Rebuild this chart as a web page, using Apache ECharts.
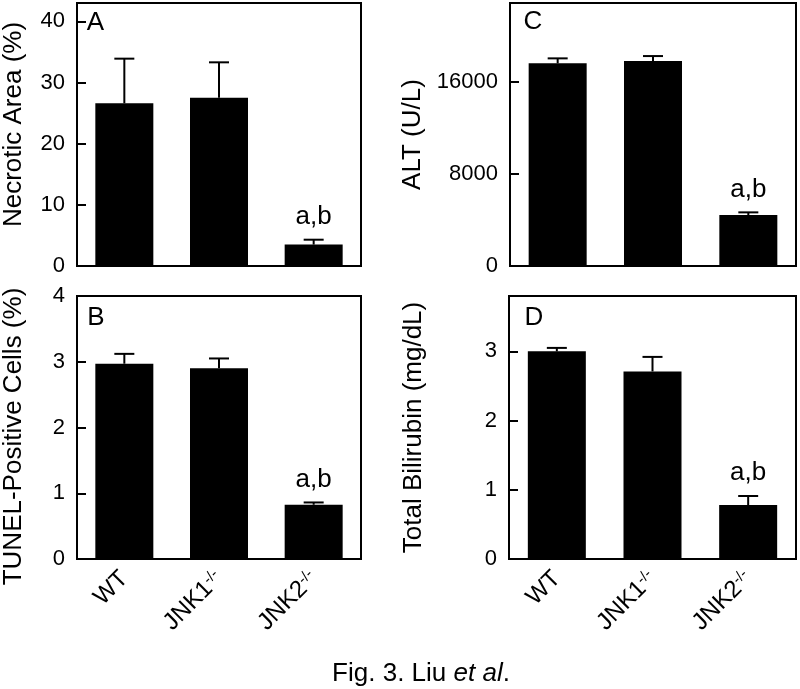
<!DOCTYPE html>
<html>
<head>
<meta charset="utf-8">
<script src="https://cdn.jsdelivr.net/npm/echarts@6/dist/echarts.min.js"></script>
<style>html,body{margin:0;padding:0;background:#fff;}#c{width:800px;height:689px;}</style>
</head>
<body>
<div id="c"></div>
<script>
var categories = ['WT', 'JNK1-/-', 'JNK2-/-'];

var necroticMean = [26.6, 27.5, 3.5];
var necroticSem  = [7.3, 5.8, 0.8];
var tunelMean = [2.97, 2.90, 0.825];
var tunelSem  = [0.15, 0.15, 0.035];
var altMean = [17570, 17770, 4420];
var altSem  = [430, 430, 230];
var biliMean = [3.0, 2.71, 0.78];
var biliSem  = [0.05, 0.21, 0.13];
var annotations = ['', '', 'a,b'];

var FONT = 'Liberation Sans, Arial, sans-serif';

var chart = echarts.init(document.getElementById('c'));

function errData(mean, sem) {
  return mean.map(function (m, i) { return [i, m, m + sem[i]]; });
}

function errRender(params, api) {
  var i = api.value(0), v = api.value(1), e = api.value(2);
  var p0 = api.coord([i, v]);
  var p1 = api.coord([i, e]);
  var half = 10;
  var children = [
    {type: 'line', shape: {x1: p0[0], y1: p0[1], x2: p1[0], y2: p1[1]}, style: {stroke: '#000', lineWidth: 2}},
    {type: 'line', shape: {x1: p1[0] - half, y1: p1[1], x2: p1[0] + half, y2: p1[1]}, style: {stroke: '#000', lineWidth: 2}}
  ];
  var a = annotations[params.dataIndex];
  if (a) {
    children.push({type: 'text', x: p1[0], y: p1[1] - 23,
      style: {text: a, font: '26px ' + FONT, fill: '#000', align: 'center', verticalAlign: 'middle'}});
  }
  return {type: 'group', children: children};
}

function xAxisDef(gridIndex, showLabels) {
  return {
    type: 'category', gridIndex: gridIndex, data: categories,
    axisLine: {show: true, lineStyle: {color: '#000', width: 2}},
    axisTick: {show: false},
    axisLabel: {
      show: showLabels, rotate: 45, margin: 16, color: '#000',
      fontFamily: FONT, fontSize: 24,
      formatter: function (v) {
        var k = v.indexOf('-');
        if (k < 0) return '{b|' + v + '}';
        return '{b|' + v.slice(0, k) + '}{s|' + v.slice(k) + '}';
      },
      rich: {
        b: {fontFamily: FONT, fontSize: 24, color: '#000'},
        s: {fontFamily: FONT, fontSize: 15, color: '#000', verticalAlign: 'top'}
      }
    },
    splitLine: {show: false}
  };
}

function yAxisDef(gridIndex, max, interval, name, showMax, nameGap, namePad) {
  return {
    type: 'value', gridIndex: gridIndex, min: 0, max: max, interval: interval,
    name: name, nameLocation: 'middle', nameGap: nameGap,
    nameTextStyle: {fontFamily: FONT, fontSize: 26, color: '#000', padding: namePad},
    axisLine: {show: true, lineStyle: {color: '#000', width: 2}},
    axisTick: {show: true, inside: true, length: 9, lineStyle: {color: '#000', width: 2}},
    axisLabel: {color: '#000', fontFamily: FONT, fontSize: 22, margin: 12, showMaxLabel: showMax,
      formatter: function (v) { return String(v); }},
    splitLine: {show: false}
  };
}

var grids = [
  {left: 74, top: 3, width: 287, height: 263},
  {left: 510, top: 3, width: 286, height: 263},
  {left: 74, top: 296, width: 287, height: 263},
  {left: 509, top: 296, width: 287, height: 263}
].map(function (g) {
  g.show = true; g.borderColor = '#000'; g.borderWidth = 2; g.backgroundColor = 'transparent';
  return g;
});

function barSeries(idx, data) {
  return {type: 'bar', xAxisIndex: idx, yAxisIndex: idx, data: data, barWidth: 58,
    itemStyle: {color: '#000'}, silent: true, z: 2};
}
function errSeries(idx, mean, sem) {
  return {type: 'custom', xAxisIndex: idx, yAxisIndex: idx, data: errData(mean, sem),
    renderItem: errRender, z: 3, silent: true};
}

chart.setOption({
  animation: false,
  backgroundColor: '#fff',
  grid: grids,
  xAxis: [xAxisDef(0, false), xAxisDef(1, false), xAxisDef(2, true), xAxisDef(3, true)],
  yAxis: [
    yAxisDef(0, 43, 10, 'Necrotic Area (%)', false, 50, [0, 0, 0, 20]),
    yAxisDef(1, 22800, 8000, 'ALT (U/L)', false, 84, [0, 0, 0, 0]),
    yAxisDef(2, 4, 1, 'TUNEL-Positive Cells (%)', true, 50, [0, 18, 0, 0]),
    yAxisDef(3, 3.8, 1, 'Total Bilirubin (mg/dL)', false, 82, [0, 0, 0, 0])
  ],
  series: [
    barSeries(0, necroticMean), errSeries(0, necroticMean, necroticSem),
    barSeries(1, altMean), errSeries(1, altMean, altSem),
    barSeries(2, tunelMean), errSeries(2, tunelMean, tunelSem),
    barSeries(3, biliMean), errSeries(3, biliMean, biliSem)
  ],
  graphic: [
    {type: 'text', x: 95.5, y: 23, style: {text: 'A', font: '26px ' + FONT, fill: '#000', align: 'center', verticalAlign: 'middle'}},
    {type: 'text', x: 533, y: 22, style: {text: 'C', font: '26px ' + FONT, fill: '#000', align: 'center', verticalAlign: 'middle'}},
    {type: 'text', x: 96, y: 317.5, style: {text: 'B', font: '26px ' + FONT, fill: '#000', align: 'center', verticalAlign: 'middle'}},
    {type: 'text', x: 534, y: 317.5, style: {text: 'D', font: '26px ' + FONT, fill: '#000', align: 'center', verticalAlign: 'middle'}},
    {type: 'text', x: 421, y: 674, style: {
      text: '{n|Fig. 3. Liu }{i|et al}{n|.}', align: 'center', verticalAlign: 'middle',
      rich: {
        n: {fontFamily: FONT, fontSize: 26, fill: '#000'},
        i: {fontFamily: FONT, fontSize: 26, fontStyle: 'italic', fill: '#000'}
      }
    }}
  ]
});
</script>
</body>
</html>
